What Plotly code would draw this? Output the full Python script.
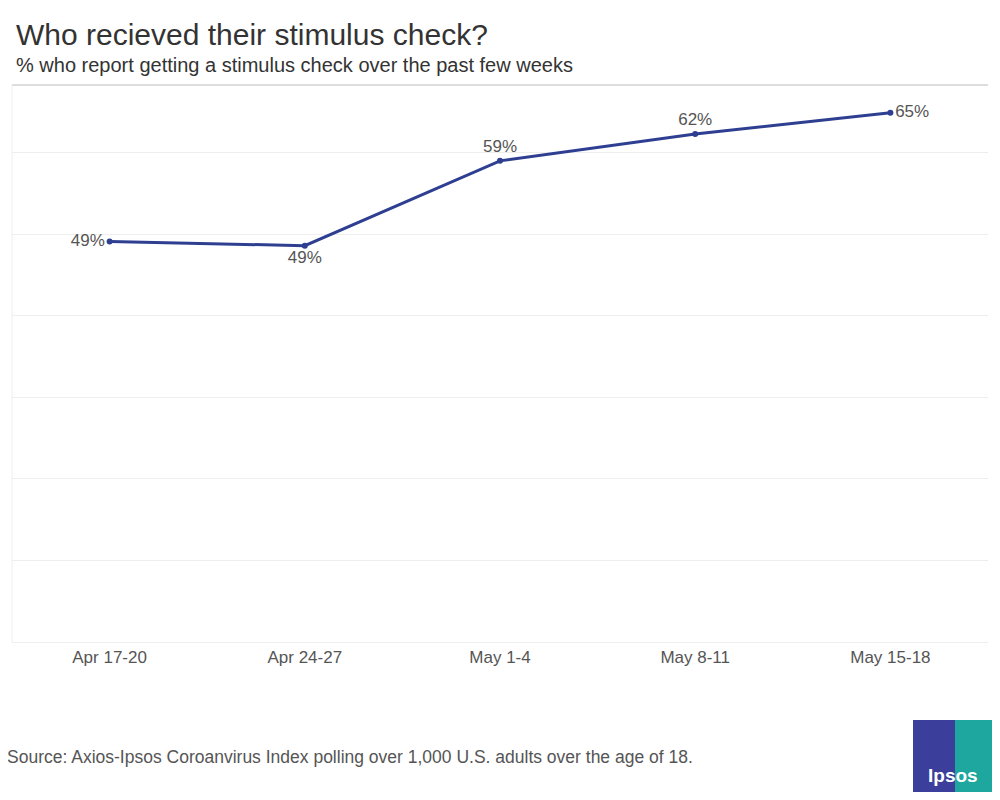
import plotly.graph_objects as go

categories = ["Apr 17-20", "Apr 24-27", "May 1-4", "May 8-11", "May 15-18"]
values = [49.1, 48.6, 59.0, 62.3, 64.9]
labels = ["49%", "49%", "59%", "62%", "65%"]
positions = ["middle left", "bottom center", "top center", "top center", "middle right"]

H = 557.0
def px(X): return (X - 12) / 976.0
def py(Y): return (642 - Y) / H

fig = go.Figure(go.Scatter(
    x=categories, y=values, mode="lines+markers+text",
    line=dict(color="#2e3f91", width=3), marker=dict(size=6, color="#2e3f91"),
    text=labels, textposition=positions,
    textfont=dict(family="Liberation Sans, Arial", size=17, color="#555555"),
    cliponaxis=False, hoverinfo="skip"))

fig.update_layout(
    width=1000, height=800, paper_bgcolor="white", plot_bgcolor="white",
    margin=dict(l=4, r=20, t=77, b=166), showlegend=False,
    font=dict(family="Liberation Sans, Arial", color="#555555"),
    xaxis=dict(showgrid=False, showline=True, linecolor="#eeeeee", ticks="",
               range=[-0.5, 4.5], tickfont=dict(size=17, color="#555555"), fixedrange=True),
    yaxis=dict(range=[0, 68.3], dtick=10, showticklabels=False,
               gridcolor="#eeeeee", zeroline=False, fixedrange=True),
    shapes=[
        dict(type="line", xref="paper", yref="paper", x0=0, x1=1, y0=1, y1=1,
             line=dict(color="#bbbbbb", width=1)),
        dict(type="line", xref="paper", yref="paper", x0=0, x1=0, y0=0, y1=1,
             line=dict(color="#eeeeee", width=1)),
        dict(type="rect", xref="paper", yref="paper", x0=px(913), x1=px(955),
             y0=py(792), y1=py(720), fillcolor="#3b3f9b", line=dict(width=0)),
        dict(type="rect", xref="paper", yref="paper", x0=px(955), x1=px(993),
             y0=py(792), y1=py(720), fillcolor="#1ea79f", line=dict(width=0)),
    ],
    annotations=[
        dict(text="Who recieved their stimulus check?", xref="paper", yref="paper",
             x=px(14), y=py(35), xanchor="left", yanchor="middle", showarrow=False,
             font=dict(size=30, color="#333333")),
        dict(text="% who report getting a stimulus check over the past few weeks",
             xref="paper", yref="paper", x=px(14), y=py(65), xanchor="left",
             yanchor="middle", showarrow=False, font=dict(size=20, color="#333333")),
        dict(text="Source: Axios-Ipsos Coroanvirus Index polling over 1,000 U.S. adults over the age of 18.",
             xref="paper", yref="paper", x=px(5), y=py(757), xanchor="left",
             yanchor="middle", showarrow=False, font=dict(size=17.5, color="#555555")),
        dict(text="<b>Ipsos</b>", xref="paper", yref="paper", x=px(953), y=py(775),
             xanchor="center", yanchor="middle", showarrow=False,
             font=dict(size=19, color="white")),
    ])

fig.write_html("out.html")
